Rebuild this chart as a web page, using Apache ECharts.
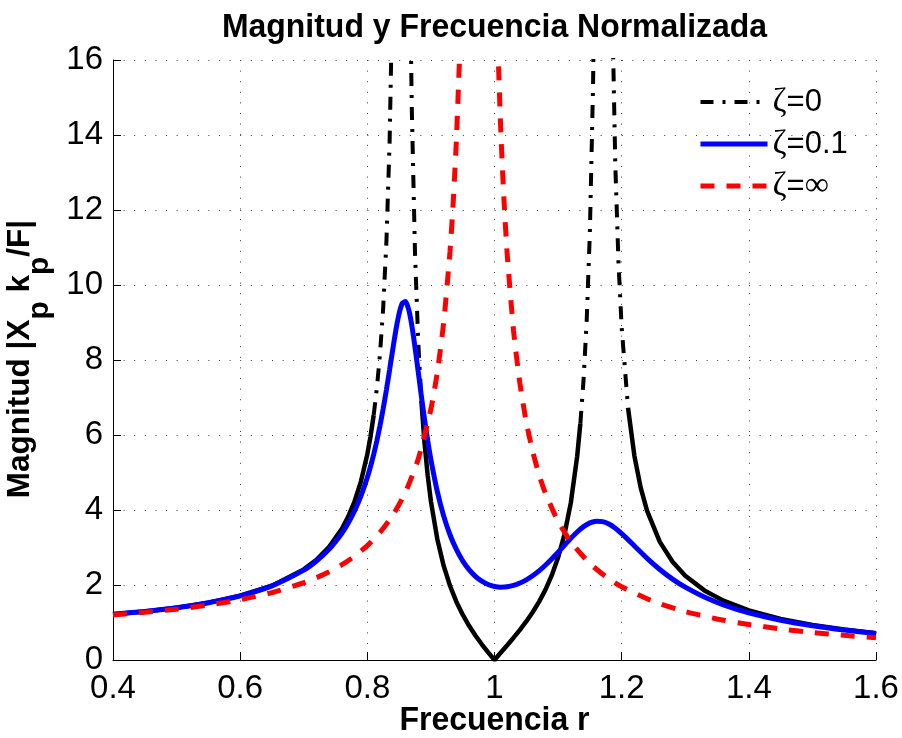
<!DOCTYPE html>
<html>
<head>
<meta charset="utf-8">
<script src="https://cdn.jsdelivr.net/npm/echarts@6/dist/echarts.min.js"></script>
<style>
  html, body { margin: 0; padding: 0; background: #ffffff; }
  #chart { width: 902px; height: 738px; }
</style>
</head>
<body>
<div id="chart"></div>
<script>
// Texts
const chartTitle = 'Magnitud y Frecuencia Normalizada';
const xAxisName = 'Frecuencia r';
const legendNames = ['ζ=0', 'ζ=0.1', 'ζ=∞'];

// Axis ranges
const xRange = [0.4, 1.6, 0.2];
const yRange = [0, 16, 2];

// ζ = 0 : undamped absorber (null = goes off to infinity)
const rUndamped = [0.40, 0.45, 0.50, 0.55, 0.60, 0.65, 0.70, 0.72, 0.74, 0.76, 0.77, 0.78, 0.79, 0.80, 0.805, 0.81, 0.815, 0.82, 0.825, 0.83, 0.835, 0.84,
  0.854,
  0.865, 0.868, 0.87, 0.875, 0.88, 0.885, 0.89, 0.895, 0.90, 0.91, 0.92, 0.93, 0.94, 0.95, 0.96, 0.97, 0.98, 0.99, 1.00,
  1.01, 1.02, 1.03, 1.04, 1.05, 1.06, 1.07, 1.08, 1.09, 1.10, 1.11, 1.12, 1.13, 1.135, 1.14, 1.145, 1.15, 1.155, 1.16,
  1.17,
  1.185, 1.19, 1.195, 1.20, 1.21, 1.22, 1.23, 1.24, 1.26, 1.28, 1.30, 1.33, 1.36, 1.40, 1.45, 1.50, 1.55, 1.60];
const magUndamped = [1.218, 1.295, 1.395, 1.529, 1.713, 1.983, 2.416, 2.674, 3.018, 3.501, 3.825, 4.233, 4.765, 5.488, 5.957, 6.531, 7.249, 8.173, 9.411, 11.153, 13.79, 18.27,
  null,
  22.0, 16.955, 14.652, 10.835, 8.499, 6.919, 5.777, 4.912, 4.232, 3.228, 2.516, 1.980, 1.556, 1.208, 0.912, 0.652, 0.419, 0.204, 0,
  0.198, 0.395, 0.595, 0.804, 1.028, 1.273, 1.550, 1.871, 2.255, 2.731, 3.347, 4.190, 5.428, 6.300, 7.453, 9.050, 11.418, 15.302, 22.86,
  null,
  17.59, 13.197, 10.594, 8.871, 6.728, 5.445, 4.589, 3.975, 3.150, 2.620, 2.247, 1.856, 1.583, 1.323, 1.097, 0.935, 0.812, 0.716];

// ζ = 0.1
const rDamped = [0.40, 0.45, 0.50, 0.55, 0.60, 0.65, 0.70, 0.72, 0.74, 0.76, 0.77, 0.78, 0.79, 0.80, 0.805, 0.81, 0.815, 0.82, 0.825, 0.83, 0.835, 0.84, 0.845,
  0.85, 0.855, 0.86, 0.865, 0.87, 0.875, 0.88, 0.885, 0.89, 0.895, 0.90, 0.91, 0.92, 0.93, 0.94, 0.95, 0.96, 0.97, 0.98, 0.99, 1.00,
  1.01, 1.02, 1.03, 1.04, 1.05, 1.06, 1.07, 1.08, 1.09, 1.10, 1.11, 1.12, 1.13, 1.14, 1.15, 1.16, 1.17, 1.18, 1.19, 1.20,
  1.21, 1.22, 1.24, 1.26, 1.28, 1.30, 1.33, 1.36, 1.40, 1.45, 1.50, 1.55, 1.60];
const magDamped = [1.218, 1.295, 1.395, 1.528, 1.711, 1.977, 2.396, 2.640, 2.956, 3.381, 3.653, 3.979, 4.377, 4.869, 5.159, 5.484, 5.848, 6.256, 6.709, 7.205, 7.739, 8.286, 8.807,
  9.241, 9.513, 9.558, 9.349, 8.918, 8.338, 7.690, 7.036, 6.416, 5.849, 5.341, 4.497, 3.844, 3.340, 2.948, 2.644, 2.410, 2.232, 2.102, 2.014, 1.961,
  1.942, 1.952, 1.989, 2.052, 2.138, 2.247, 2.377, 2.526, 2.692, 2.872, 3.058, 3.243, 3.414, 3.556, 3.656, 3.703, 3.691, 3.625, 3.514, 3.371,
  3.210, 3.041, 2.711, 2.414, 2.158, 1.942, 1.679, 1.472, 1.259, 1.061, 0.913, 0.798, 0.707];

// ζ = ∞ : absorber locked to the main mass
const rRigid = [0.40, 0.45, 0.50, 0.55, 0.60, 0.65, 0.70, 0.72, 0.74, 0.76, 0.78, 0.80, 0.82, 0.84, 0.86, 0.88, 0.90, 0.91, 0.92, 0.93, 0.935, 0.94, 0.945,
  0.976,
  1.005, 1.01, 1.015, 1.02, 1.03, 1.04, 1.05, 1.06, 1.07, 1.08, 1.10, 1.12, 1.15, 1.175, 1.20, 1.25, 1.30, 1.35, 1.40, 1.45, 1.50, 1.55, 1.60];
const magRigid = [1.202, 1.270, 1.356, 1.466, 1.608, 1.797, 2.060, 2.195, 2.353, 2.541, 2.769, 3.049, 3.402, 3.859, 4.476, 5.351, 6.689, 7.663, 8.986, 10.887, 12.186, 13.847, 16.045,
  null,
  16.522, 14.064, 12.235, 10.820, 8.776, 7.370, 6.344, 5.562, 4.947, 4.450, 3.697, 3.153, 2.573, 2.224, 1.953, 1.561, 1.291, 1.095, 0.945, 0.828, 0.734, 0.657, 0.592];

const FONT = '"Liberation Sans", Arial, Helvetica, sans-serif';
const SERIF = '"Liberation Serif", "Times New Roman", serif';

function pairs(xs, ys, keep) {
  return xs.map((x, i) => {
    const y = ys[i];
    if (y === null || (keep && !keep(i))) return [x, '-'];
    return [x, y];
  });
}

// The undamped curve is drawn solid where it is flat and dash-dot where it climbs steeply
const STEEP = 7;
const isSteep = i => magUndamped[i] !== null && magUndamped[i] !== undefined && magUndamped[i] >= STEEP;
const undampedFlat = pairs(rUndamped, magUndamped, i => magUndamped[i] <= STEEP);
const undampedSteep = pairs(rUndamped, magUndamped, i => isSteep(i) || isSteep(i - 1) || isSteep(i + 1));

const dashDot = [13, 9, 3, 9];
const dashed = [14, 12];
const hiddenMarker = { opacity: 0, borderWidth: 0 };

const chart = echarts.init(document.getElementById('chart'), null, { renderer: 'canvas' });

chart.setOption({
  animation: false,
  backgroundColor: '#ffffff',
  grid: { left: 113, right: 26, top: 60, bottom: 78, containLabel: false },
  xAxis: {
    type: 'value',
    min: xRange[0], max: xRange[1], interval: xRange[2],
    axisLine: { show: true, onZero: false, lineStyle: { color: '#000', width: 1 } },
    axisTick: { show: true, inside: true, length: 8, lineStyle: { color: '#000', width: 1 } },
    axisLabel: { fontFamily: FONT, fontSize: 33, color: '#000', margin: 12, showMinLabel: true, showMaxLabel: true },
    splitLine: { show: true, lineStyle: { color: '#3a3a3a', width: 1, type: [1, 9.6] } }
  },
  yAxis: {
    type: 'value',
    min: yRange[0], max: yRange[1], interval: yRange[2],
    axisLine: { show: true, onZero: false, lineStyle: { color: '#000', width: 1 } },
    axisTick: { show: true, inside: true, length: 8, lineStyle: { color: '#000', width: 1 } },
    axisLabel: { fontFamily: FONT, fontSize: 33, color: '#000', margin: 10 },
    splitLine: { show: true, lineStyle: { color: '#3a3a3a', width: 1, type: [1, 9.6] } }
  },
  legend: {
    orient: 'vertical',
    left: 693,
    top: 80,
    itemWidth: 67,
    itemHeight: 14,
    itemGap: 8,
    data: [
      { name: legendNames[0], itemStyle: hiddenMarker, lineStyle: { width: 4, type: dashDot, color: '#000', cap: 'butt' } },
      { name: legendNames[1], itemStyle: hiddenMarker, lineStyle: { width: 5, color: '#0000ff' } },
      { name: legendNames[2], itemStyle: hiddenMarker, lineStyle: { width: 5, type: dashed, color: '#ff0000', cap: 'butt' } }
    ],
    selectedMode: false,
    formatter: name => {
      const v = name.split('=')[1];
      return '{g|ζ}{t|=}' + (v === '∞' ? '{g|∞}' : '{t|' + v + '}');
    },
    textStyle: {
      color: '#000',
      rich: {
        g: { fontFamily: SERIF, fontSize: 34, color: '#000' },
        t: { fontFamily: FONT, fontSize: 31, color: '#000' }
      }
    }
  },
  graphic: [
    {
      type: 'text',
      x: 494.5, y: 28,
      scaleX: 0.94,
      style: {
        text: chartTitle,
        font: 'bold 34px ' + FONT,
        fill: '#000',
        align: 'center',
        verticalAlign: 'middle'
      }
    },
    {
      type: 'text',
      x: 494.5, y: 721,
      scaleX: 0.94,
      style: {
        text: xAxisName,
        font: 'bold 34px ' + FONT,
        fill: '#000',
        align: 'center',
        verticalAlign: 'middle'
      }
    },
    {
      type: 'text',
      x: 40, y: 359,
      rotation: Math.PI / 2,
      style: {
        text: '{m|Magnitud |X}{s|p}{m| k}{s|p}{m|/F|}',
        align: 'center',
        verticalAlign: 'middle',
        fill: '#000',
        rich: {
          m: { fontFamily: FONT, fontSize: 31.5, fontWeight: 'bold', fill: '#000', lineHeight: 36, verticalAlign: 'top' },
          s: { fontFamily: FONT, fontSize: 30, fontWeight: 'bold', fill: '#000', lineHeight: 72, verticalAlign: 'middle' }
        }
      }
    }
  ],
  series: [
    {
      name: legendNames[0] + ' ',
      type: 'line',
      data: undampedFlat,
      symbol: 'none',
      clip: true,
      connectNulls: false,
      lineStyle: { color: '#000', width: 4.5 },
      z: 2
    },
    {
      name: legendNames[0],
      type: 'line',
      data: undampedSteep,
      symbol: 'none',
      clip: true,
      connectNulls: false,
      itemStyle: { color: '#000' },
      lineStyle: { color: '#000', width: 4, type: dashDot, cap: 'butt' },
      z: 2
    },
    {
      name: legendNames[1],
      type: 'line',
      data: pairs(rDamped, magDamped),
      symbol: 'none',
      clip: true,
      smooth: 0.2,
      itemStyle: { color: '#0000ff' },
      lineStyle: { color: '#0000ff', width: 5 },
      z: 3
    },
    {
      name: legendNames[2],
      type: 'line',
      data: pairs(rRigid, magRigid),
      symbol: 'none',
      clip: true,
      smooth: 0.2,
      connectNulls: false,
      itemStyle: { color: '#ff0000' },
      lineStyle: { color: '#ff0000', width: 5, type: dashed, cap: 'butt' },
      z: 4
    }
  ]
});
</script>
</body>
</html>
